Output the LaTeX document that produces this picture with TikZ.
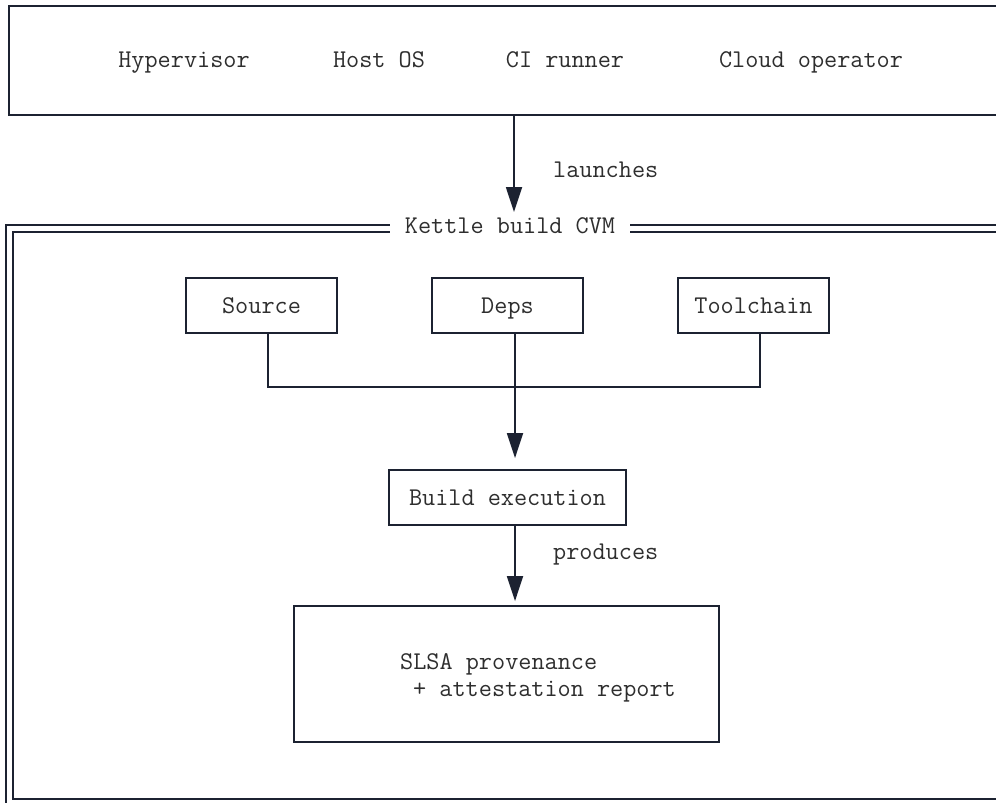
\documentclass[tikz,border=0pt]{standalone}
\usepackage{fontspec}
\usetikzlibrary{arrows.meta,calc}
\definecolor{ink}{HTML}{1C2231}
\definecolor{txt}{HTML}{2E2E2E}
\tikzset{
  every node/.style={font=\ttfamily\fontsize{25.5}{31}\selectfont, text=txt,
    text height=18pt, text depth=3pt},
  box/.style={draw=ink, line width=1.8pt, fill=white, inner sep=0pt},
  label/.style={inner sep=0pt},
  wire/.style={draw=ink, line width=1.8pt},
  arrow/.style={wire, -{Triangle[length=25pt,width=16pt]}},
}
\begin{document}
\begin{tikzpicture}[x=1pt,y=-1pt]
  \useasboundingbox (0,0) rectangle (996,803);
  \clip (0,0) rectangle (996,803);

  % untrusted host layer
  \node[box, anchor=north west, minimum width=1010pt, minimum height=109pt] (host) at (8,5) {};
  \node[label] (hv)   at (184,60) {Hypervisor};
  \node[label] (hos)  at (379,60) {Host OS};
  \node[label] (ci)   at (565,60) {CI runner};
  \node[label] (op)   at (811,60) {Cloud operator};

  % confidential VM frame (double border)
  \node[box, fill=none, anchor=north west, minimum width=1010pt, minimum height=590pt] (cvm) at (5,224) {};
  \node[box, fill=none, anchor=north west, minimum width=1000pt, minimum height=567pt] (cvmin) at (12,231) {};
  \node[label, fill=white, inner xsep=15pt, inner ysep=2pt] (cvmtitle) at (510,226) {Kettle build CVM};

  % launch arrow
  \coordinate (launchtop) at (514,114);
  \coordinate (launchtip) at (514,212);
  \draw[arrow] (launchtop) -- (launchtip);
  \node[label, anchor=west] (launches) at (553,170) {launches};

  % inputs
  \node[box, minimum width=151pt, minimum height=55pt] (src)  at (261.5,305.5) {Source};
  \node[box, minimum width=151pt, minimum height=55pt] (deps) at (507.5,305.5) {Deps};
  \node[box, minimum width=151pt, minimum height=55pt] (tool) at (753.5,305.5) {Toolchain};

  % build step and output
  \node[box, minimum width=237pt, minimum height=55pt] (build) at (507.5,497.5) {Build execution};
  \node[box, minimum width=425pt, minimum height=136pt] (slsa) at (506.5,674) {};
  \node[label, anchor=west] (slsa1) at (400,662) {SLSA provenance};
  \node[label, anchor=west] (slsa2) at (413,689) {+ attestation report};

  % merge of the three inputs
  \coordinate (join) at (515,387);
  \draw[wire] ([xshift=6.5pt]src.south) |- (join) -| ([xshift=6.5pt]tool.south);
  \draw[arrow, shorten >=11pt] ([xshift=7.5pt]deps.south) -- ([xshift=7.5pt]deps.south |- build.north);

  % produces
  \draw[arrow, shorten >=4pt] ([xshift=7.5pt]build.south) -- ([xshift=7.5pt]build.south |- slsa.north);
  \node[label, anchor=west] (produces) at (553,552) {produces};
\end{tikzpicture}
\end{document}
